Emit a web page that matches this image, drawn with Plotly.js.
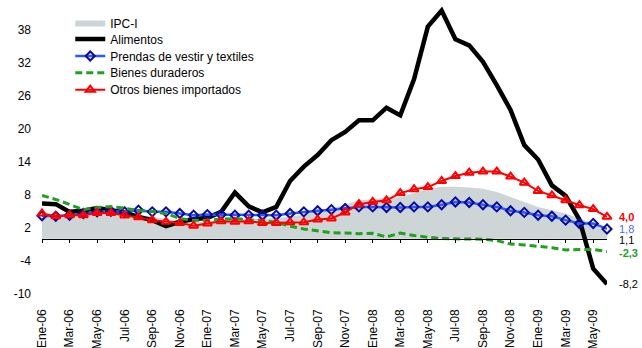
<!DOCTYPE html>
<html>
<head>
<meta charset="utf-8">
<script src="https://cdn.plot.ly/plotly-3.0.1.min.js"></script>
<style>
  html, body { margin: 0; padding: 0; background: #fff; }
  #chart { width: 642px; height: 348px; }
</style>
</head>
<body>
<div id="chart"></div>
<script>
// Monthly year-on-year variation (%), January 2006 - June 2009
const months = ['Ene-06','Feb-06','Mar-06','Abr-06','May-06','Jun-06','Jul-06','Ago-06','Sep-06','Oct-06','Nov-06','Dic-06',
                'Ene-07','Feb-07','Mar-07','Abr-07','May-07','Jun-07','Jul-07','Ago-07','Sep-07','Oct-07','Nov-07','Dic-07',
                'Ene-08','Feb-08','Mar-08','Abr-08','May-08','Jun-08','Jul-08','Ago-08','Sep-08','Oct-08','Nov-08','Dic-08',
                'Ene-09','Feb-09','Mar-09','Abr-09','May-09','Jun-09'];

const tickLabels = ['Ene-06','Mar-06','May-06','Jul-06','Sep-06','Nov-06','Ene-07','Mar-07','May-07','Jul-07','Sep-07',
                    'Nov-07','Ene-08','Mar-08','May-08','Jul-08','Sep-08','Nov-08','Ene-09','Mar-09','May-09'];
const yTicks = [-10, -4, 2, 8, 14, 20, 26, 32, 38];

const ipcI = [4.2,4.1,4.3,4.4,4.7,4.8,4.6,4.3,4.0,3.6,3.3,3.1,3.2,3.4,3.6,3.6,3.7,3.8,4.0,4.4,5.1,5.5,6.2,7.0,
              7.2,7.5,7.6,8.3,9.1,9.45,9.45,9.3,9.1,8.5,7.6,6.7,5.8,5.2,4.6,3.7,2.8,1.1];
const alimentos = [6.4,6.3,4.9,5.1,5.6,5.2,4.8,4.0,3.4,2.3,3.1,3.6,3.8,4.9,8.4,5.9,4.8,5.8,10.5,13.1,15.2,17.9,19.4,21.5,
                   21.5,23.8,22.4,29.0,38.5,41.4,36.2,35.1,32.1,27.9,23.4,17.0,14.4,9.7,7.8,3.5,-5.4,-8.2];
const prendas = [4.2,4.1,4.3,4.6,4.9,5.0,4.9,5.2,4.9,4.9,4.6,4.3,4.4,4.4,4.3,4.3,4.3,4.3,4.6,4.9,5.1,5.3,5.5,5.8,
                 5.8,5.7,5.7,5.8,5.8,6.2,6.7,6.6,6.2,5.8,5.1,4.8,4.3,4.1,3.4,2.8,2.8,1.8];
const duraderos = [7.9,7.15,6.25,5.3,5.7,5.85,5.55,5.15,4.95,4.6,3.7,3.35,3.4,3.6,3.7,3.45,3.35,3.0,2.3,1.8,1.45,1.1,1.05,0.95,
                   1.0,0.35,1.05,0.6,0.3,0.05,0.0,-0.05,-0.05,-0.3,-0.95,-1.1,-1.3,-1.6,-2.0,-2.0,-1.9,-2.3];
const importados = [4.6,4.1,4.3,4.3,4.7,4.7,4.25,3.9,3.4,3.1,2.9,2.4,2.8,3.2,3.1,3.2,2.9,2.9,3.0,3.0,3.5,3.7,4.8,6.3,
                    6.7,7.0,8.3,9.0,9.4,10.5,11.4,12.0,12.2,12.2,11.3,10.2,8.7,7.9,7.0,6.1,5.4,4.0];

const seriesNames = ['IPC-I', 'Alimentos', 'Prendas de vestir y textiles', 'Bienes duraderos', 'Otros bienes importados'];

const FONT = 'Liberation Sans, Arial, sans-serif';
const Y_MIN = -10, Y_MAX = 43.33;

const traces = [
  {
    x: months, y: ipcI, name: seriesNames[0], type: 'scatter', mode: 'none',
    fill: 'tozeroy', fillcolor: '#cdd5d7', legend: 'legend'
  },
  {
    x: months, y: alimentos, name: seriesNames[1], type: 'scatter', mode: 'lines',
    line: { color: '#000000', width: 4.5 }, legend: 'legend2'
  },
  {
    x: months, y: prendas, name: seriesNames[2], type: 'scatter', mode: 'lines+markers',
    line: { color: '#2b57ff', width: 2.5 },
    marker: { symbol: 'diamond-open', size: 7, color: '#0a0a9c', line: { width: 2, color: '#0a0a9c' } },
    cliponaxis: false, legend: 'legend3'
  },
  {
    x: months, y: duraderos, name: seriesNames[3], type: 'scatter', mode: 'lines',
    line: { color: '#1fa01f', width: 3, dash: '7px,4px' }, legend: 'legend4'
  },
  {
    // drawn on the overlay axis that also carries the zero line and its ticks
    x: months, y: importados, name: seriesNames[4], type: 'scatter', mode: 'lines+markers',
    xaxis: 'x2',
    line: { color: '#ff0000', width: 2 },
    marker: { symbol: 'triangle-up-open', size: 8, color: '#ff0000', line: { width: 2, color: '#ff0000' } },
    cliponaxis: false, legend: 'legend5'
  }
];

// Closing values written to the right of the last month
const last = arr => arr[arr.length - 1];
const fmt = v => v.toFixed(1).replace('.', ',');
const endLabels = [
  { v: last(importados), color: '#ff0000', bold: true, dy: 0 },
  { v: last(prendas), color: '#4a6bff', bold: false, dy: 0 },
  { v: last(ipcI), color: '#000000', bold: false, dy: -7 },
  { v: last(duraderos), color: '#1fa01f', bold: true, dy: -1 },
  { v: last(alimentos), color: '#000000', bold: false, dy: 0 }
];
const annotations = endLabels.map(l => ({
  x: last(months), y: l.v, xref: 'x', yref: 'y',
  text: l.bold ? '<b>' + fmt(l.v) + '</b>' : fmt(l.v),
  showarrow: false, xanchor: 'left', yanchor: 'middle', xshift: 10, yshift: l.dy,
  font: { family: FONT, size: 11, color: l.color }
}));

// One single-entry legend per series, stacked at the top left
const legendRows = [23.5, 39, 56, 72.7, 89.7];
const plotH = 294;
const legendBase = {
  x: 0.05, xanchor: 'left', yanchor: 'middle', bgcolor: 'rgba(0,0,0,0)',
  font: { family: FONT, size: 12, color: '#000' }, borderwidth: 0, itemwidth: 30
};
const legends = {};
legendRows.forEach((row, i) => {
  legends[i === 0 ? 'legend' : 'legend' + (i + 1)] = Object.assign({}, legendBase, { y: 1 - row / plotH });
});

const zeroPos = (0 - Y_MIN) / (Y_MAX - Y_MIN);

const layout = Object.assign({
  width: 642, height: 348,
  margin: { l: 42, r: 35, t: 0, b: 54 },
  paper_bgcolor: '#fff', plot_bgcolor: '#fff',
  font: { family: FONT, size: 12, color: '#000' },
  showlegend: true,
  xaxis: {
    type: 'category', range: [0, months.length - 1],
    tickvals: tickLabels, ticktext: tickLabels, tickangle: -90,
    ticks: '', showline: false, showgrid: false, zeroline: false,
    ticklabelstandoff: 12, tickfont: { family: FONT, size: 12, color: '#000' }
  },
  xaxis2: {
    type: 'category', overlaying: 'x', anchor: 'free', position: zeroPos,
    range: [0, months.length - 1],
    tickvals: tickLabels,
    showticklabels: false, ticks: 'outside', ticklen: 3, tickcolor: '#000', tickwidth: 1,
    showline: true, linecolor: '#000', linewidth: 1, showgrid: false, zeroline: false
  },
  yaxis: {
    range: [Y_MIN, Y_MAX], tickvals: yTicks, ticktext: yTicks.map(String),
    ticks: '', showline: false, showgrid: false, zeroline: false,
    ticklabelstandoff: 10, tickfont: { family: FONT, size: 12, color: '#000' }
  },
  annotations: annotations
}, legends);

Plotly.newPlot('chart', traces, layout, { staticPlot: true, displayModeBar: false });
</script>
</body>
</html>
